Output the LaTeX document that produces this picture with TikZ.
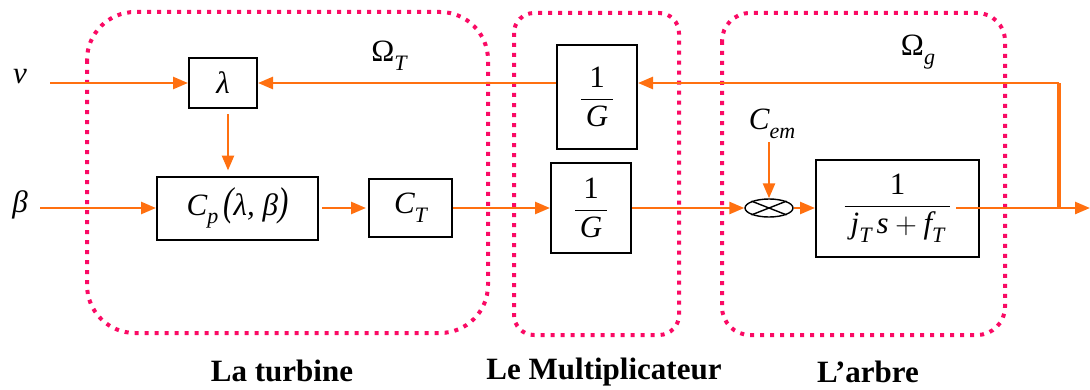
\documentclass[tikz,border=0pt]{standalone}
\usepackage{amsmath}
\usepackage{fontspec}
\setmainfont{Liberation Serif}
\usetikzlibrary{arrows.meta,shapes.geometric,calc}
\definecolor{sigorange}{RGB}{255,112,16}
\definecolor{framepink}{RGB}{250,10,100}
% lowered italic subscript in text mode
\newcommand{\sbs}[1]{\raisebox{-0.6ex}{\fontsize{11}{13}\selectfont\itshape #1}}
\begin{document}
\begin{tikzpicture}[x=0.5pt,y=-0.5pt,
  every node/.style={font=\fontsize{15.5}{18}\selectfont},
  blk/.style={draw=black,line width=1pt,inner sep=0pt},
  wire/.style={draw=sigorange,line width=1.3pt},
  sig/.style={wire,-{Triangle[length=7.5pt,width=6pt]}},
  frame/.style={draw=framepink,line width=2pt,dash pattern=on 2pt off 3pt},
  grp/.style={font=\fontsize{15.5}{18}\selectfont\bfseries}]
\useasboundingbox (0,0) rectangle (1090,390);

% group frames
\draw[frame,rounded corners=24pt] (87,12) rectangle (488,333);
\draw[frame,rounded corners=10pt] (514,13) rectangle (679,335);
\draw[frame,rounded corners=14pt] (722,13) rectangle (1005,335);

% blocks
\node[blk,minimum width=34pt,minimum height=25pt] (lam) at (223,83) {\itshape λ};
\node[blk,minimum width=80.5pt,minimum height=31.5pt] (cp) at (237.5,208)
  {\itshape C\sbs{p}\,\scalebox{1}[1.3]{(}λ, β\scalebox{1}[1.3]{)}};
\node[blk,minimum width=41.5pt,minimum height=29pt] (ct) at (410.5,208) {\itshape C\sbs{T}};
\node[blk,minimum width=40pt,minimum height=52pt] (g1) at (597,97)
  {$\dfrac{\,\text{1}\,}{\,\text{\itshape G}\,}$};
\node[blk,minimum width=40pt,minimum height=45pt] (g2) at (591,208)
  {$\dfrac{\,\text{1}\,}{\,\text{\itshape G}\,}$};
\node[draw=black,line width=0.7pt,ellipse,minimum width=24pt,minimum height=9pt,inner sep=0pt] (sum) at (769,208) {};
\draw[line width=0.7pt] (sum.north west) -- (sum.south east) (sum.north east) -- (sum.south west);
\node[blk,minimum width=81.5pt,minimum height=48.5pt] (tf) at (897.5,208)
  {$\dfrac{\text{1}}{\hspace{3pt}\text{\itshape j\sbs{T}\,s} + \text{\itshape f\sbs{T}}\hspace{3pt}}$};

% labels
\node (vlab) at (20,77) {\itshape v};
\node (blab) at (20,205) {\itshape β};
\node (cem) at (772,124) {\itshape C\sbs{em}};
\node (omt) at (389,56) {Ω\sbs{T}};
\node (omg) at (918,52) {Ω\sbs{g}};
\node[grp] (lt) at (282,371) {La turbine};
\node[grp] (lm) at (604,372) {Le Multiplicateur};
\node[grp] (la) at (868,372) {L’arbre};

% signal points
\coordinate (vin) at (50,83);
\coordinate (bin) at (40,208);
\coordinate (tfo) at (956,208);
\coordinate (split) at (1059,208);
\coordinate (out) at (1090,208);
\coordinate (fbk) at (1059,83);
\coordinate (cemtop) at (769,142);

% connectors
\draw[sig] (vin) -- (lam.west);
\draw[sig] (bin) -- (cp.west);
\draw[sig,shorten <=2.5pt,shorten >=2.5pt] ([xshift=2.5pt]lam.south) -- ([xshift=2.5pt]lam.south |- cp.north);
\draw[sig,shorten <=1.5pt,shorten >=1pt] (cp.east) -- (ct.west);
\draw[sig] (ct.east) -- (g2.west);
\draw[sig] (g2.east) -- (sum.west);
\draw[sig] (sum.east) -- (tf.west);
\draw[sig] (cemtop) -- (sum.north);
\draw[wire] (tfo) -- (split);
\draw[sig] (split) -- (out);
\draw[wire,line width=2pt] (split) -- (fbk);
\draw[sig] (fbk) -- (g1.east |- fbk);
\draw[sig] (g1.west |- fbk) -- (lam.east);
\end{tikzpicture}
\end{document}
